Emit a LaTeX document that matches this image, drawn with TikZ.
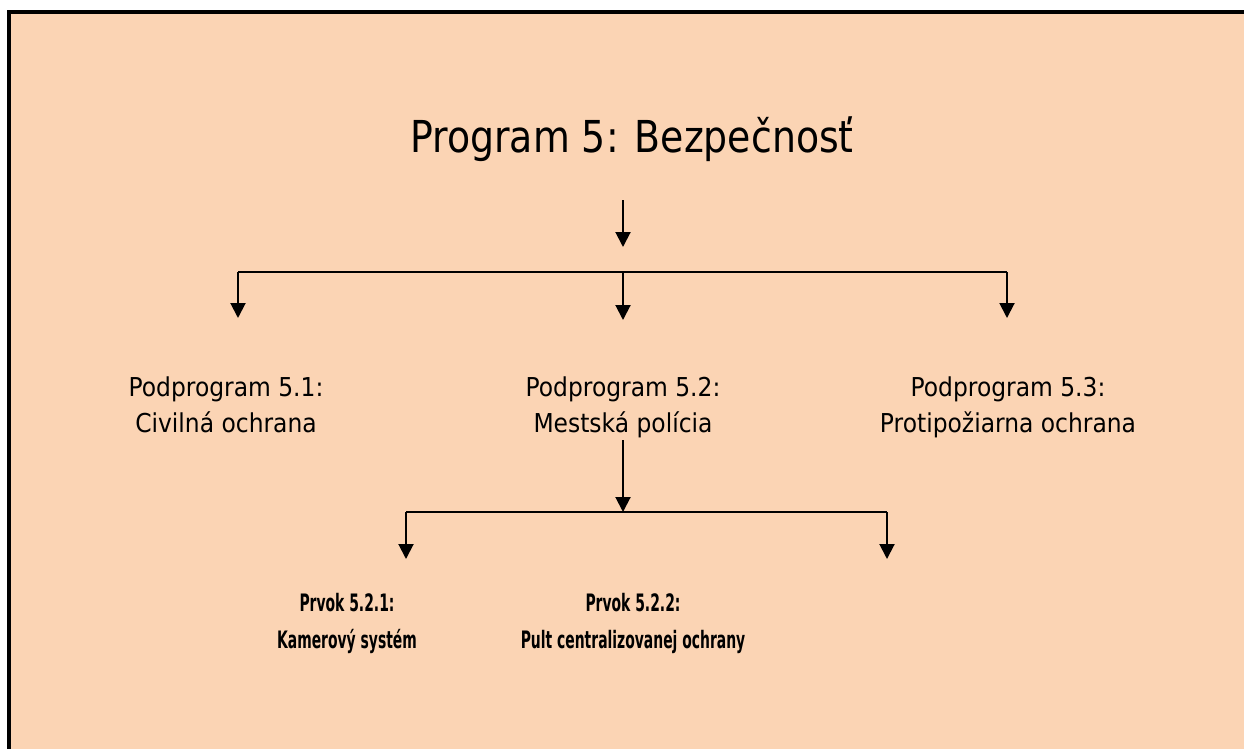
\documentclass[tikz,border=0pt]{standalone}
\usepackage{fontspec}
\usetikzlibrary{arrows.meta}
\newfontfamily\titlefont[FakeStretch=0.86]{DejaVu Sans}
\newfontfamily\subfont[FakeStretch=0.9]{DejaVu Sans}
\newfontfamily\elemfont[FakeStretch=0.58]{DejaVu Sans}
\definecolor{bgc}{HTML}{FBD4B4}
\tikzset{
  lbl/.style={inner sep=0pt, align=center, anchor=north, font=\subfont\fontsize{26}{36}\selectfont},
  elem/.style={inner sep=0pt, align=center, anchor=north, font=\elemfont\bfseries\fontsize{24}{37}\selectfont},
  conn/.style={line width=2pt, black},
  arr/.style={conn, -{Triangle[width=15pt,length=15pt]}}
}
\begin{document}
\begin{tikzpicture}[x=1pt,y=-1pt]
\useasboundingbox (0,0) rectangle (1244,749);
\fill[white] (0,0) rectangle (1244,749);
\fill[bgc] (9,12.5) rectangle (1244,749);
\draw[line width=4pt] (9,749) -- (9,12.5) -- (1244,12.5);

\node[inner sep=0pt, anchor=base, font=\titlefont\fontsize{44}{50}\selectfont] (title) at (632,152) {Program 5: Bezpečnosť};

\coordinate (a0) at (623,200);
\coordinate (a1) at (623,247);
\coordinate (h1l) at (238,272);
\coordinate (h1m) at (623,272);
\coordinate (h1r) at (1007,272);
\coordinate (t1l) at (238,318);
\coordinate (t1m) at (623,320);
\coordinate (t1r) at (1007,318);

\node[lbl] (p51) at (226,377) {Podprogram 5.1:\\Civilná ochrana};
\node[lbl] (p52) at (623,377) {Podprogram 5.2:\\Mestská polícia};
\node[lbl] (p53) at (1008,377) {Podprogram 5.3:\\Protipožiarna ochrana};

\coordinate (b0) at (623,440);
\coordinate (b1) at (623,512);
\coordinate (h2l) at (406,512);
\coordinate (h2r) at (887,512);
\coordinate (t2l) at (406,559);
\coordinate (t2r) at (887,559);

\node[elem] (e1) at (347,593) {Prvok 5.2.1:\\Kamerový systém};
\node[elem] (e2) at (633,593) {Prvok 5.2.2:\\Pult centralizovanej ochrany};

\draw[arr] (a0) -- (a1);
\draw[conn] (h1l) -- (h1r);
\draw[arr] (h1l) -- (t1l);
\draw[arr] (h1m) -- (t1m);
\draw[arr] (h1r) -- (t1r);
\draw[arr] (b0) -- (b1);
\draw[conn] (h2l) -- (h2r);
\draw[arr] (h2l) -- (t2l);
\draw[arr] (h2r) -- (t2r);
\end{tikzpicture}
\end{document}
